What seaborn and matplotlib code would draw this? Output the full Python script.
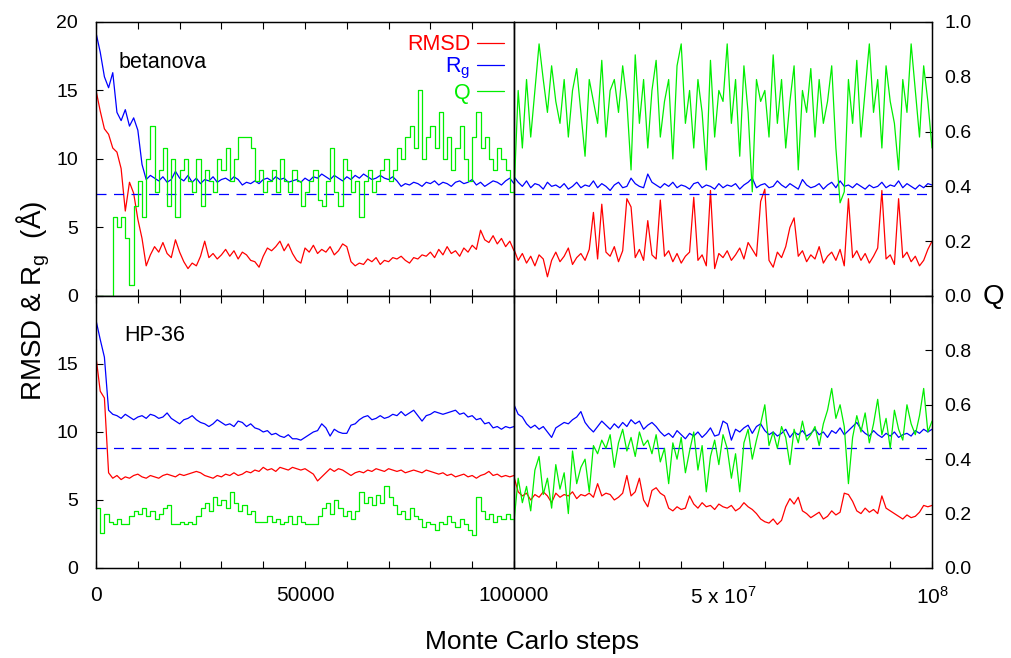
import numpy as np
import matplotlib
matplotlib.use("Agg")
import matplotlib.pyplot as plt
from matplotlib.lines import Line2D
import seaborn as sns

# sampled Monte Carlo steps: first 1e5 steps, then the long run up to 1e8
steps_early = np.arange(0, 100001, 1000)
steps_long = np.arange(0, 100000001, 1000000)

# ---- betanova ----
beta_rmsd_early = [
    15.0, 13.5, 12.2, 11.8, 10.8, 10.5, 9.3, 6.2, 8.3, 7.5,
    5.6, 4.2, 2.2, 3.0, 3.6, 3.2, 3.9, 3.1, 2.8, 4.1,
    3.2, 2.5, 2.0, 2.4, 2.2, 2.9, 4.0, 2.8, 3.1, 2.7,
    3.0, 3.4, 2.9, 3.3, 2.7, 3.2, 3.0, 2.6, 2.5, 2.1,
    2.9, 3.5, 3.3, 3.6, 4.0, 3.3, 3.8, 3.1, 2.6, 2.4,
    3.5, 3.2, 3.7, 3.1, 3.4, 3.2, 3.6, 3.0, 3.3, 3.8,
    3.6, 2.5, 2.2, 2.4, 2.3, 2.7, 2.5, 2.8, 2.3, 2.6,
    2.5, 2.8, 2.7, 2.9, 2.6, 2.4, 2.8, 2.7, 3.0, 2.9,
    3.2, 2.8, 3.4, 3.0, 3.6, 3.1, 3.3, 2.9, 3.5, 3.2,
    3.7, 3.4, 4.8, 4.1, 3.9, 4.4, 3.8, 4.2, 3.6, 4.0,
    3.3]
beta_rg_early = [
    19.2, 17.8, 16.0, 15.2, 16.3, 13.4, 12.8, 13.6, 12.4, 13.0,
    12.1, 9.6, 8.5, 8.8, 8.6, 8.4, 8.7, 8.3, 8.5, 9.1,
    8.6, 8.4, 8.8, 8.3, 8.6, 8.2, 8.5, 8.4, 8.7, 8.3,
    8.5, 8.6, 8.4, 8.7, 8.5, 8.1, 8.3, 8.2, 8.4, 8.2,
    8.5, 8.6, 8.4, 8.7, 8.5, 8.6, 8.3, 8.4, 8.5, 8.3,
    8.6, 8.4, 8.7, 8.6, 8.9, 8.7, 8.5, 8.8, 8.6, 8.4,
    8.7, 8.5, 8.8, 8.6, 8.9, 8.7, 8.5, 8.6, 8.8, 8.6,
    8.5, 8.7, 8.4, 8.0, 8.2, 8.1, 8.3, 8.2, 8.0, 8.3,
    8.2, 8.4, 8.1, 8.3, 8.2, 8.0, 8.3, 8.4, 8.2, 8.3,
    8.5, 8.1, 8.3, 8.0, 8.2, 8.4, 8.3, 8.1, 8.4, 8.6,
    8.2]
beta_q_early = [
    0.0, 0.0, 0.0, 0.0, 0.29, 0.25, 0.29, 0.21, 0.04, 0.33,
    0.42, 0.29, 0.50, 0.62, 0.38, 0.46, 0.54, 0.33, 0.50, 0.29,
    0.46, 0.50, 0.42, 0.38, 0.50, 0.33, 0.46, 0.42, 0.38, 0.50,
    0.46, 0.54, 0.42, 0.50, 0.58, 0.58, 0.58, 0.54, 0.42, 0.46,
    0.38, 0.42, 0.46, 0.38, 0.50, 0.42, 0.38, 0.46, 0.42, 0.33,
    0.38, 0.42, 0.46, 0.35, 0.33, 0.42, 0.54, 0.38, 0.33, 0.50,
    0.46, 0.38, 0.42, 0.29, 0.42, 0.46, 0.38, 0.42, 0.46, 0.50,
    0.42, 0.46, 0.54, 0.50, 0.58, 0.62, 0.54, 0.75, 0.50, 0.58,
    0.62, 0.54, 0.67, 0.50, 0.58, 0.46, 0.54, 0.62, 0.50, 0.42,
    0.58, 0.67, 0.54, 0.58, 0.50, 0.46, 0.54, 0.50, 0.46, 0.38,
    0.50]
beta_rmsd_long = [
    3.4, 2.6, 3.1, 2.4, 2.9, 2.2, 3.0, 2.7, 1.4, 2.6,
    3.2, 2.5, 2.9, 3.5, 2.3, 2.8, 3.1, 2.6, 3.4, 6.1,
    2.7, 6.7, 3.2, 2.9, 3.6, 2.5, 3.3, 7.1, 6.5, 2.8,
    3.4, 2.6, 5.5, 3.0, 2.7, 7.0, 2.9, 3.3, 2.5, 3.1,
    2.4, 2.9, 3.2, 7.2, 2.6, 3.0, 2.2, 7.7, 2.0, 3.1,
    2.8, 3.3, 2.6, 3.0, 3.5, 2.7, 3.9, 3.4, 2.9, 6.9,
    7.8, 2.6, 2.1, 3.2, 2.8, 3.6, 5.0, 5.7, 2.9, 3.3,
    2.5, 3.0, 2.7, 3.6, 2.4, 2.9, 3.2, 2.6, 3.4, 2.2,
    7.1, 2.8, 3.3, 2.6, 3.1, 2.4, 2.9, 3.5, 7.7, 2.7,
    3.0, 2.3, 7.1, 2.8, 3.2, 2.5, 2.9, 2.2, 2.6, 3.4,
    4.0]
beta_rg_long = [
    8.7, 8.3, 8.0, 8.4, 7.9, 8.2, 8.1, 7.8, 8.3, 8.0,
    8.1, 7.9, 8.2, 7.8, 8.0, 8.3, 7.9, 8.1, 8.0, 8.4,
    7.9, 8.2, 8.0, 7.7, 8.1, 8.3, 7.9, 8.0, 8.6, 8.2,
    8.0, 7.9, 8.9, 8.3, 8.1, 7.9, 8.2, 8.0, 8.3, 7.9,
    8.1, 8.0, 7.8, 8.2, 8.3, 7.9, 8.1, 8.0, 7.8, 8.2,
    7.9, 8.1, 8.0, 8.2, 7.8, 8.1, 8.3, 8.6, 7.9, 8.1,
    8.2, 7.9, 8.0, 8.4, 8.1, 7.9, 8.2, 8.0, 7.8, 8.5,
    8.1, 7.9, 8.0, 8.2, 7.8, 8.1, 8.3, 7.9, 8.4, 8.0,
    8.1, 7.9, 8.2, 8.0, 7.8, 8.1, 7.9, 8.0, 8.3, 7.9,
    8.1, 8.0, 8.4, 7.9, 8.2, 8.0, 7.8, 8.1, 7.9, 8.2,
    8.1]
beta_q_long = [
    0.37, 0.75, 0.54, 0.79, 0.58, 0.75, 0.92, 0.79, 0.67, 0.84,
    0.71, 0.63, 0.79, 0.58, 0.75, 0.83, 0.67, 0.51, 0.79, 0.71,
    0.63, 0.86, 0.58, 0.75, 0.79, 0.67, 0.84, 0.71, 0.46, 0.88,
    0.63, 0.79, 0.54, 0.75, 0.86, 0.58, 0.71, 0.79, 0.50, 0.84,
    0.92, 0.63, 0.75, 0.54, 0.79, 0.67, 0.46, 0.86, 0.58, 0.75,
    0.71, 0.92, 0.63, 0.79, 0.51, 0.84, 0.67, 0.38, 0.79, 0.71,
    0.75, 0.58, 0.88, 0.63, 0.79, 0.54, 0.71, 0.84, 0.46, 0.75,
    0.67, 0.83, 0.58, 0.79, 0.63, 0.71, 0.84, 0.54, 0.34, 0.38,
    0.79, 0.63, 0.86, 0.58, 0.75, 0.92, 0.67, 0.79, 0.54, 0.84,
    0.71, 0.63, 0.46, 0.79, 0.67, 0.92, 0.75, 0.58, 0.84, 0.71,
    0.54]
beta_rg_native = 7.47

# ---- HP-36 ----
hp_rmsd_early = [
    15.5, 13.0, 12.5, 7.0, 6.6, 6.8, 6.5, 6.7, 6.6, 6.8,
    6.9, 6.7, 6.6, 6.8, 6.7, 6.6, 6.8, 6.9, 6.8, 6.7,
    6.9, 6.8, 6.9, 7.0, 7.1, 7.0, 6.8, 6.7, 6.6, 6.8,
    6.7, 6.9, 6.8, 7.0, 6.8, 6.9, 7.1, 7.0, 7.2, 7.1,
    7.4, 7.2, 7.3, 7.1, 7.4, 7.3, 7.2, 7.4, 7.3, 7.2,
    7.3, 7.1, 6.9, 6.4, 6.7, 7.0, 7.3, 7.1, 7.3, 7.2,
    7.0, 6.8, 7.0, 7.1, 7.0, 7.2, 7.1, 7.3, 7.2, 7.1,
    7.3, 7.2, 7.1, 7.2, 7.0, 7.1, 7.2, 7.1, 7.0, 7.2,
    7.1, 7.0, 6.9, 7.0, 6.8, 6.9, 6.7, 6.8, 6.9, 6.7,
    6.8, 6.6, 6.8, 6.9, 7.1, 6.8, 6.9, 6.7, 6.8, 6.7,
    6.8]
hp_rg_early = [
    18.2, 16.8, 15.5, 11.6, 11.3, 11.2, 11.0, 11.3, 11.1, 10.9,
    11.1, 11.2, 11.0, 11.3, 11.2, 11.0, 11.1, 11.4, 11.0, 10.8,
    10.6, 10.9, 11.0, 11.2, 10.9, 10.7, 10.6, 10.4, 10.6, 10.9,
    10.7, 10.5, 10.6, 10.4, 10.8, 10.7, 10.4, 10.6, 10.3, 10.2,
    10.0, 10.1, 9.8, 9.9, 9.7, 9.6, 9.8, 9.5, 9.5, 9.4,
    9.6, 9.8, 10.0, 10.1, 10.6, 10.3, 9.7, 10.2, 10.0, 9.9,
    9.9, 10.5, 10.6, 10.9, 11.1, 11.2, 10.9, 11.0, 11.2, 11.0,
    11.1, 11.3, 11.2, 11.5, 11.2, 11.4, 11.6, 11.2, 10.8, 11.2,
    11.3, 11.5, 11.4, 11.3, 11.4, 11.5, 11.6, 11.3, 11.4, 11.1,
    11.2, 10.9, 11.0, 10.6, 10.7, 10.3, 10.4, 10.2, 10.4, 10.3,
    10.4]
hp_q_early = [
    0.22, 0.13, 0.20, 0.17, 0.16, 0.18, 0.16, 0.16, 0.19, 0.21,
    0.20, 0.22, 0.19, 0.21, 0.18, 0.20, 0.22, 0.23, 0.16, 0.16,
    0.17, 0.16, 0.17, 0.16, 0.19, 0.22, 0.24, 0.21, 0.26, 0.23,
    0.25, 0.22, 0.28, 0.24, 0.21, 0.23, 0.20, 0.21, 0.17, 0.17,
    0.17, 0.19, 0.17, 0.18, 0.16, 0.17, 0.19, 0.16, 0.19, 0.17,
    0.16, 0.16, 0.16, 0.19, 0.22, 0.24, 0.20, 0.25, 0.22, 0.19,
    0.21, 0.18, 0.21, 0.28, 0.24, 0.26, 0.23, 0.27, 0.24, 0.30,
    0.26, 0.23, 0.20, 0.21, 0.18, 0.22, 0.19, 0.18, 0.15, 0.17,
    0.16, 0.14, 0.17, 0.16, 0.19, 0.17, 0.15, 0.18, 0.16, 0.14,
    0.12, 0.26, 0.21, 0.18, 0.20, 0.17, 0.19, 0.18, 0.20, 0.18,
    0.17]
hp_rmsd_long = [
    6.7, 5.6, 5.3, 5.5, 5.0, 5.4, 5.2, 5.6, 5.3, 4.8,
    5.5, 5.2, 5.4, 5.3, 5.6, 5.1, 5.4, 5.3, 5.5, 5.2,
    6.2, 5.3, 5.5, 5.4, 5.0, 5.2, 5.5, 6.8, 5.3, 5.6,
    6.6, 5.0, 4.5, 5.7, 5.9, 5.5, 5.3, 4.4, 4.2, 4.5,
    4.3, 4.4, 5.3, 4.7, 4.4, 4.8, 4.5, 4.6, 4.3, 4.7,
    4.5, 4.4, 4.6, 4.2, 4.4, 4.8, 4.5, 4.3, 4.0, 3.6,
    3.4, 3.3, 3.6, 3.2, 3.5, 4.5, 5.1, 4.7, 5.2, 4.2,
    4.0, 3.7, 3.9, 4.1, 3.6, 3.8, 4.2, 3.9, 4.1, 5.5,
    5.4, 4.9, 4.2, 4.0, 4.4, 4.1, 4.3, 4.0, 5.3, 4.4,
    4.2, 4.0, 3.8, 3.6, 3.9, 3.7, 3.8, 4.1, 4.6, 4.5,
    4.6]
hp_rg_long = [
    12.0, 11.3, 11.1, 10.6, 10.3, 10.5, 10.2, 10.4, 10.0, 9.6,
    10.3, 10.5, 10.7, 10.6, 10.9, 11.1, 11.5, 10.7, 10.3, 10.0,
    10.4, 10.8, 10.5, 10.2, 10.6, 10.3, 10.7, 10.4, 10.9, 10.6,
    10.8, 10.2, 10.5, 10.7, 10.4, 10.0, 9.7, 9.9, 9.6, 10.1,
    9.8, 9.5, 9.9, 9.7, 10.0, 9.6, 9.9, 10.3, 9.7, 9.8,
    10.8, 10.6, 9.4, 10.2, 10.0, 10.3, 10.5, 9.9, 10.4, 10.6,
    10.1, 9.8, 10.0, 9.7, 9.9, 10.2, 9.6, 10.0, 9.8, 10.1,
    9.7, 9.9, 10.2, 9.8, 10.0, 9.6, 10.1, 9.9, 10.3, 9.8,
    10.1, 10.4, 10.7, 10.2, 9.9, 9.7, 10.1, 9.8, 9.6, 9.9,
    9.7, 10.0, 9.6, 9.8, 9.9, 9.7, 10.1, 9.9, 10.2, 10.0,
    10.2]
hp_q_long = [
    0.17, 0.33, 0.24, 0.30, 0.21, 0.36, 0.41, 0.27, 0.33, 0.22,
    0.38, 0.29, 0.35, 0.20, 0.43, 0.31, 0.37, 0.40, 0.28, 0.45,
    0.42, 0.47, 0.44, 0.49, 0.37, 0.46, 0.51, 0.43, 0.48, 0.41,
    0.50, 0.45, 0.47, 0.42, 0.49, 0.39, 0.44, 0.31, 0.46, 0.40,
    0.48, 0.35, 0.43, 0.50, 0.36, 0.45, 0.28, 0.41, 0.47, 0.38,
    0.49, 0.44, 0.33, 0.42, 0.28, 0.46, 0.51, 0.40, 0.47, 0.53,
    0.60, 0.45, 0.50, 0.44, 0.52, 0.48, 0.38, 0.51, 0.46, 0.54,
    0.47, 0.49, 0.52, 0.45, 0.53, 0.58, 0.66, 0.55, 0.60, 0.52,
    0.31, 0.48, 0.56, 0.50, 0.57, 0.46, 0.53, 0.62, 0.49, 0.55,
    0.44, 0.58, 0.51, 0.47, 0.60, 0.53, 0.49, 0.56, 0.66, 0.50,
    0.54]
hp_rg_native = 8.8

panel_names = ["betanova", "HP-36"]

RED, BLUE, GREEN = "#ff0000", "#0000ff", "#00ee00"

sns.set_style("ticks", {"axes.edgecolor": "black", "xtick.color": "black",
                        "ytick.color": "black", "text.color": "black",
                        "axes.labelcolor": "black"})
plt.rcParams["font.family"] = ["Liberation Sans", "DejaVu Sans"]
plt.rcParams["mathtext.fontset"] = "custom"
plt.rcParams["mathtext.rm"] = "Liberation Sans"
plt.rcParams["mathtext.it"] = "Liberation Sans:italic"
plt.rcParams["axes.linewidth"] = 0.9

fig = plt.figure(figsize=(10.11, 6.58), dpi=100)

x0, xm, x1 = 0.0950, 0.5084, 0.9219
rows = [(0.5502, 0.4164), (0.1368, 0.4134)]

data = [
    (beta_rmsd_early, beta_rg_early, beta_q_early,
     beta_rmsd_long, beta_rg_long, beta_q_long, beta_rg_native),
    (hp_rmsd_early, hp_rg_early, hp_q_early,
     hp_rmsd_long, hp_rg_long, hp_q_long, hp_rg_native),
]

lw = 0.9
for r, (yb, h) in enumerate(rows):
    rmsd_e, rg_e, q_e, rmsd_l, rg_l, q_l, rg_nat = data[r]
    axl = fig.add_axes([x0, yb, xm - x0, h])
    axr = fig.add_axes([xm, yb, x1 - xm, h])
    tl = axl.twinx()
    tr = axr.twinx()

    # early part: Q as a stepped trace, long run: plain lines
    sns.lineplot(x=steps_early, y=rmsd_e, ax=axl, color=RED, lw=lw, estimator=None)
    sns.lineplot(x=steps_early, y=rg_e, ax=axl, color=BLUE, lw=lw, estimator=None)
    sns.lineplot(x=steps_early, y=q_e, ax=tl, color=GREEN, lw=lw, estimator=None,
                 drawstyle="steps-post")
    sns.lineplot(x=steps_long, y=rmsd_l, ax=axr, color=RED, lw=lw, estimator=None)
    sns.lineplot(x=steps_long, y=rg_l, ax=axr, color=BLUE, lw=lw, estimator=None)
    sns.lineplot(x=steps_long, y=q_l, ax=tr, color=GREEN, lw=lw, estimator=None)
    for a in (axl, axr):
        a.axhline(rg_nat, color=BLUE, lw=0.9, ls=(0, (8, 6)))

    axl.set_xlim(0, 100000)
    axr.set_xlim(0, 100000000)
    for a in (axl, axr, tl, tr):
        a.set_xlabel("")
        a.set_ylabel("")
    for a in (axl, axr):
        a.set_ylim(0, 20)
        a.tick_params(axis="x", direction="in", length=5, width=0.8,
                      top=True, bottom=True, labelsize=15, pad=13)
    for a in (tl, tr):
        a.set_ylim(0, 1)

    axl.set_xticks(np.arange(0, 100001, 10000))
    axr.set_xticks(np.arange(0, 100000001, 10000000))
    if r == 1:
        axl.set_xticklabels(["0", "", "", "", "", "50000", "", "", "", "", "100000"])
        axr.set_xticklabels(["", "", "", "", "", r"5 x 10$^7$", "", "", "", "", r"10$^8$"])
    else:
        axl.tick_params(axis="x", labelbottom=False)
        axr.tick_params(axis="x", labelbottom=False)

    axl.set_yticks([0, 5, 10, 15, 20])
    axl.set_yticklabels(["0", "5", "10", "15", "20"] if r == 0 else ["0", "5", "10", "15", ""])
    axl.tick_params(axis="y", direction="in", length=5, width=0.8, left=True,
                    right=False, labelsize=14, pad=13)
    axr.tick_params(axis="y", left=False, right=False, labelleft=False)
    tl.tick_params(axis="y", left=False, right=False, labelright=False)
    tr.set_yticks(np.arange(0, 1.01, 0.2))
    tr.set_yticklabels(["0.0", "0.2", "0.4", "0.6", "0.8", "1.0"] if r == 0
                       else ["0.0", "0.2", "0.4", "0.6", "0.8", ""])
    tr.tick_params(axis="y", direction="in", length=5, width=0.8, right=True,
                   labelsize=14, pad=9)

    axl.text(0.053 if r == 0 else 0.067, 0.853, panel_names[r],
             transform=axl.transAxes, fontsize=15.5, va="center", ha="left")

    if r == 0:
        handles = [Line2D([], [], color=c, lw=lw) for c in (RED, BLUE, GREEN)]
        axl.legend(handles, ["RMSD", r"R$_\mathrm{g}$", "Q"], loc="upper right",
                   bbox_to_anchor=(0.975, 0.955), frameon=False, markerfirst=False,
                   labelcolor=[RED, BLUE, GREEN], fontsize=15.5, handlelength=1.25,
                   handletextpad=0.3, labelspacing=0.05, borderpad=0, borderaxespad=0)

fig.text(0.033, 0.543, r"RMSD & R$_\mathrm{g}$  (Å)", rotation=90,
         fontsize=20, ha="center", va="center")
fig.text(0.983, 0.549, "Q", fontsize=20, ha="center", va="center")
fig.text(0.526, 0.025, "Monte Carlo steps", fontsize=19, ha="center", va="center")

fig.savefig("out.png", dpi=100)
